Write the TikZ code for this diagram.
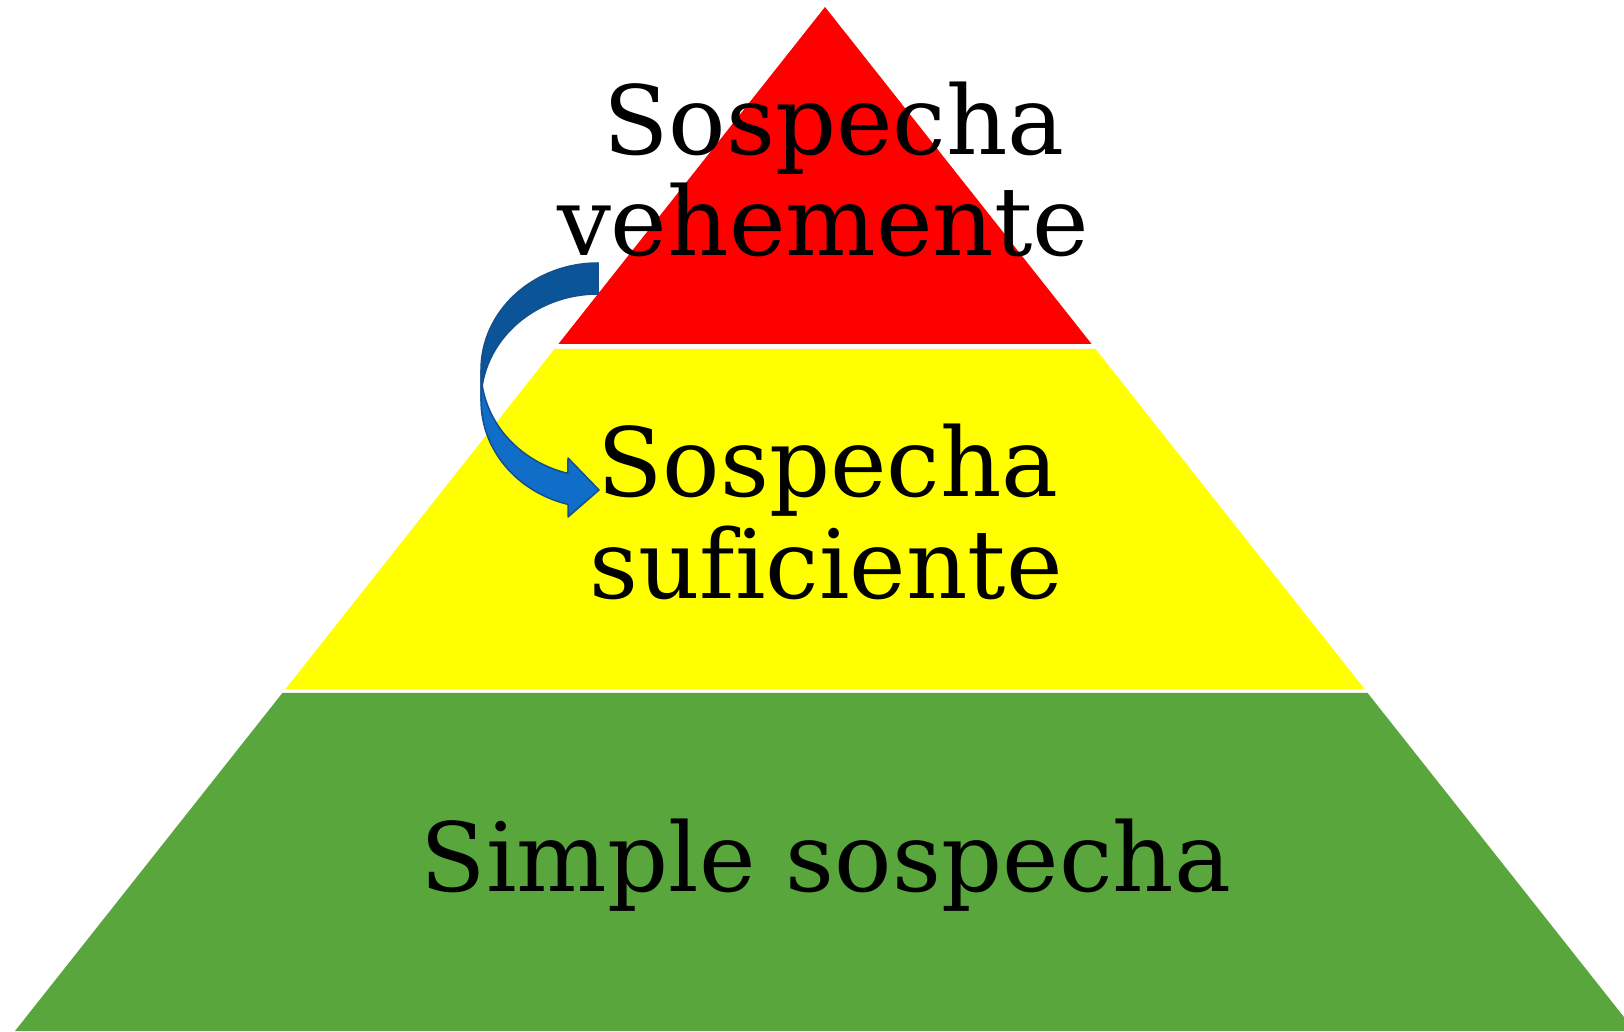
\documentclass[tikz,border=0pt]{standalone}
\usepackage{fontspec}
\setmainfont[Ligatures=NoCommon]{DejaVu Serif}
\begin{document}
\begin{tikzpicture}[x=1pt,y=1pt,
  lbl/.style={anchor=base,inner sep=0pt,font=\fontsize{95.5}{95.5}\selectfont}]
\definecolor{pgreen}{RGB}{89,167,60}
\definecolor{pyellow}{RGB}{255,255,0}
\definecolor{arrback}{RGB}{12,84,152}
\definecolor{arrfront}{RGB}{16,110,200}
\definecolor{arredge}{RGB}{20,78,140}
\useasboundingbox (0,0) rectangle (1624,1031);
\fill[white] (0,0) rectangle (1624,1031);
% bands
\fill[red] (825,1024) -- (1091.6,687) -- (558.4,687) -- cycle;
\fill[pyellow] (554.5,682) -- (1095.5,682) -- (1364.5,342) -- (285.5,342) -- cycle;
\fill[pgreen] (282.4,338) -- (1367.6,338) -- (1635,0) -- (15,0) -- cycle;
% curved arrow: back face
\filldraw[fill=arrback,draw=arredge,line width=1.5pt,line join=round]
  (598,768) arc[start angle=90,end angle=180,x radius=117pt,y radius=107pt]
  -- (481,630) arc[start angle=180,end angle=90,x radius=117pt,y radius=107pt]
  -- cycle;
% front face with head
\filldraw[fill=arrfront,draw=arredge,line width=1.5pt,line join=round]
  (481,661) arc[start angle=180,end angle=255.1,x radius=117pt,y radius=107pt]
  -- (568,573) -- (599,541) -- (568,514) -- (568,526.6)
  arc[start angle=255.1,end angle=180,x radius=117pt,y radius=107pt]
  -- cycle;
% labels
\node[lbl] (t1) at (834,876) {Sospecha};
\node[lbl] (t2) at (823,775) {vehemente};
\node[lbl] (t3) at (828,534) {Sospecha};
\node[lbl] (t4) at (826,432) {suficiente};
\node[lbl] (t5) at (826,140) {Simple sospecha};
\end{tikzpicture}
\end{document}
